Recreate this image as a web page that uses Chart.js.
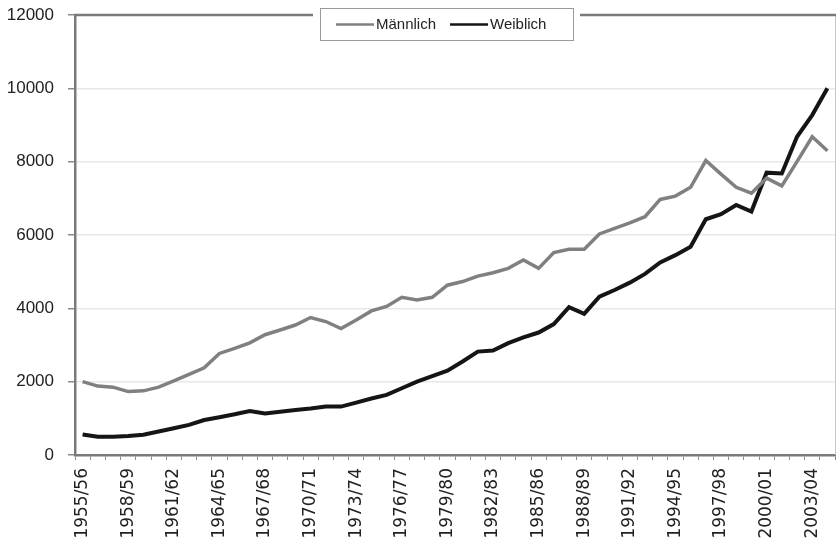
<!DOCTYPE html>
<html>
<head>
<meta charset="utf-8">
<script src="https://cdn.jsdelivr.net/npm/chart.js@4.4.1/dist/chart.umd.min.js"></script>
<style>
  html, body { margin: 0; padding: 0; background: #fff; }
  #wrap { width: 836px; height: 541px; }
</style>
</head>
<body>
<div id="wrap"><canvas id="chart" width="836" height="541"></canvas></div>
<script>
// Studienjahre 1955/56 bis 2004/05
const jahre = [
  '1955/56','1956/57','1957/58','1958/59','1959/60','1960/61','1961/62','1962/63','1963/64','1964/65',
  '1965/66','1966/67','1967/68','1968/69','1969/70','1970/71','1971/72','1972/73','1973/74','1974/75',
  '1975/76','1976/77','1977/78','1978/79','1979/80','1980/81','1981/82','1982/83','1983/84','1984/85',
  '1985/86','1986/87','1987/88','1988/89','1989/90','1990/91','1991/92','1992/93','1993/94','1994/95',
  '1995/96','1996/97','1997/98','1998/99','1999/00','2000/01','2001/02','2002/03','2003/04','2004/05'
];

const maennlich = [
  2000, 1880, 1850, 1730, 1750, 1850, 2020, 2200, 2380, 2770,
  2910, 3060, 3280, 3410, 3545, 3750, 3640, 3450, 3680, 3930,
  4050, 4300, 4230, 4300, 4630, 4730, 4880, 4970, 5090, 5320,
  5090, 5520, 5610, 5610, 6030, 6180, 6330, 6500, 6970, 7060,
  7300, 8030, 7660, 7300, 7140, 7550, 7340, 8000, 8680, 8300
];

const weiblich = [
  560, 500, 500, 520, 555, 640, 730, 820, 955, 1030,
  1110, 1200, 1130, 1180, 1230, 1270, 1320, 1320, 1430, 1540,
  1640, 1820, 2000, 2150, 2300, 2550, 2820, 2850, 3050, 3210,
  3340, 3570, 4030, 3850, 4320, 4500, 4700, 4940, 5250, 5450,
  5680, 6430, 6570, 6820, 6640, 7700, 7680, 8680, 9270, 10000
];

const yTicks = [0, 2000, 4000, 6000, 8000, 10000, 12000];

const FONT = 'Liberation Sans, Arial, sans-serif';

// Rahmen oben/rechts und Legende mit weissem Hintergrund
const rahmenLegende = {
  id: 'rahmenLegende',
  afterDraw(chart) {
    const { ctx, chartArea: a } = chart;
    ctx.save();
    ctx.strokeStyle = '#c8c8c8';
    ctx.lineWidth = 1;
    ctx.beginPath();
    ctx.moveTo(a.right + 0.5, a.top);
    ctx.lineTo(a.right + 0.5, a.bottom);
    ctx.stroke();
    ctx.strokeStyle = '#7a7a7a';
    ctx.lineWidth = 2.5;
    ctx.beginPath();
    ctx.moveTo(a.left - 1, a.top);
    ctx.lineTo(a.right + 1, a.top);
    ctx.stroke();

    // Legende
    const bx = 320, by = 8, bw = 253, bh = 32;
    ctx.fillStyle = '#fff';
    ctx.fillRect(bx - 7, by - 4, bw + 14, bh + 8);
    ctx.strokeStyle = '#9a9a9a';
    ctx.lineWidth = 1;
    ctx.strokeRect(bx + 0.5, by + 0.5, bw, bh);

    ctx.font = '15px ' + FONT;
    ctx.textBaseline = 'middle';
    ctx.fillStyle = '#222';
    const cy = by + bh / 2 + 0.5;
    let x = bx + 16;
    chart.data.datasets.forEach((ds) => {
      ctx.strokeStyle = ds.borderColor;
      ctx.lineWidth = 2.5;
      ctx.beginPath();
      ctx.moveTo(x, cy);
      ctx.lineTo(x + 38, cy);
      ctx.stroke();
      ctx.fillText(ds.label, x + 40, cy);
      x += 40 + ctx.measureText(ds.label).width + 14;
    });
    ctx.restore();
  }
};

const ctx = document.getElementById('chart').getContext('2d');
const chart = new Chart(ctx, {
  type: 'line',
  data: {
    labels: jahre,
    datasets: [
      {
        label: 'Männlich',
        data: maennlich,
        borderColor: '#808080',
        borderWidth: 3.5,
        pointRadius: 0,
        tension: 0
      },
      {
        label: 'Weiblich',
        data: weiblich,
        borderColor: '#151515',
        borderWidth: 4,
        pointRadius: 0,
        tension: 0
      }
    ]
  },
  options: {
    responsive: false,
    animation: false,
    layout: { padding: { top: 15, right: 1, left: 0, bottom: 0 } },
    plugins: {
      legend: { display: false },
      tooltip: { enabled: false }
    },
    scales: {
      x: {
        offset: true,
        grid: {
          offset: true,
          drawOnChartArea: false,
          drawTicks: true,
          tickLength: 5,
          tickColor: '#8a8a8a',
          lineWidth: 1
        },
        border: { color: '#7a7a7a', width: 2.5 },
        ticks: {
          autoSkip: false,
          maxRotation: 90,
          minRotation: 90,
          padding: 8,
          color: '#222',
          font: { family: 'DejaVu Sans, sans-serif', size: 17 },
          callback: (v, i) => (i % 3 === 0 ? jahre[i] : '')
        },
        afterFit: (s) => { s.height = 86; s.paddingLeft = 0; s.paddingRight = 0; }
      },
      y: {
        min: 0,
        max: 12000,
        afterBuildTicks: (s) => { s.ticks = yTicks.map(v => ({ value: v })); },
        grid: {
          color: '#e8e8e8',
          lineWidth: 1.5,
          tickLength: 7,
          tickColor: '#8a8a8a'
        },
        border: { color: '#7a7a7a', width: 2.5 },
        ticks: {
          padding: 14,
          color: '#222',
          font: { family: FONT, size: 17 },
          callback: (v) => String(v)
        },
        afterFit: (s) => { s.width = 75; s.paddingTop = 0; s.paddingBottom = 0; }
      }
    }
  },
  plugins: [rahmenLegende]
});
</script>
</body>
</html>
